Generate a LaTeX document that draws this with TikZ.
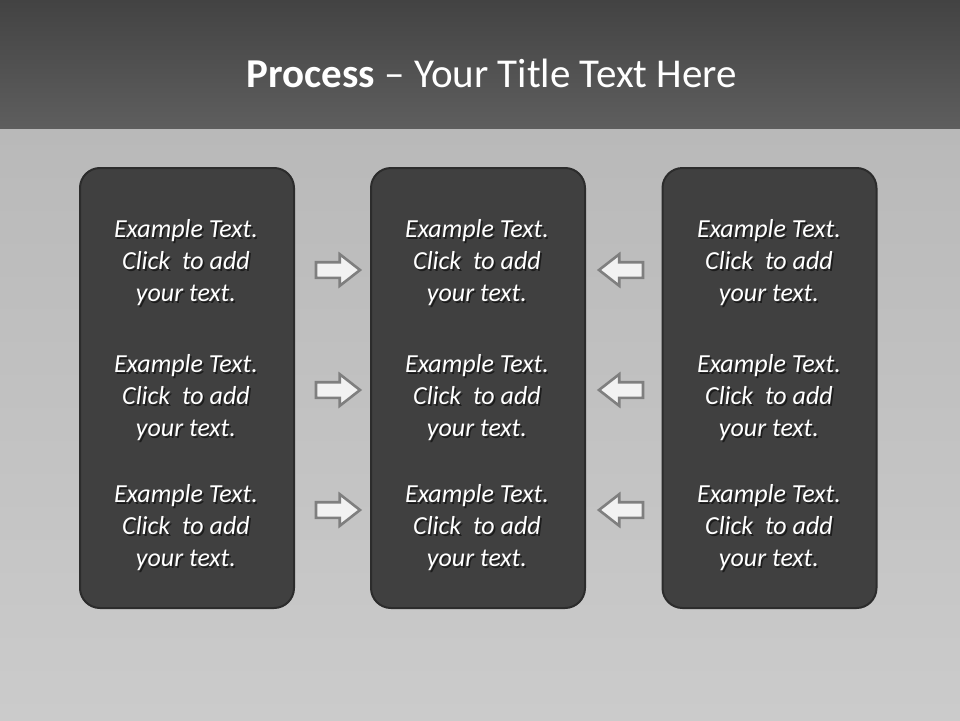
\documentclass[tikz,border=0pt]{standalone}
\usepackage{fontspec}
\setmainfont{Carlito}
\usetikzlibrary{shapes.arrows}
\definecolor{bandtop}{HTML}{434343}
\definecolor{bandbot}{HTML}{5E5E5E}
\definecolor{bgtop}{HTML}{B9B9B9}
\definecolor{bgbot}{HTML}{CBCBCB}
\definecolor{boxfill}{HTML}{404040}
\definecolor{boxline}{HTML}{2C2C2C}
\definecolor{arrfill}{HTML}{F2F2F2}
\definecolor{arrline}{HTML}{7F7F7F}
\tikzset{
  panel/.style={draw=boxline, line width=2pt, fill=boxfill, rounded corners=20pt,
    minimum width=214pt, minimum height=440pt, inner sep=0pt},
  txt/.style={text=white, align=center, inner sep=0pt,
    font=\fontsize{26}{32}\selectfont\itshape},
  txtshadow/.style={txt, text=black, opacity=0.55},
  arrowshape/.style={single arrow, draw=arrline, line width=2.6pt, fill=arrfill,
    minimum height=44pt, single arrow head extend=8pt,
    single arrow tip angle=76, inner xsep=0pt, inner ysep=6.5pt},
  title/.style={text=white, font=\fontsize{41}{48}\selectfont, inner sep=0pt}
}
\begin{document}
\begin{tikzpicture}[x=1pt,y=-1pt]
\useasboundingbox (0,0) rectangle (960,720);
% background
\shade[top color=bgtop, bottom color=bgbot] (0,128) rectangle (960,720);
\shade[top color=bandtop, bottom color=bandbot] (0,0) rectangle (960,128);
% title
\node[title] (ttl) at (492,73) {\textbf{Process} – Your Title Text Here};
% panels
\node[panel] (p1) at (187,388) {};
\node[panel] (p2) at (478,388) {};
\node[panel] (p3) at (769.5,388) {};
% texts
\foreach \cx/\n in {186/1,477/2,769/3}{
  \foreach \cy/\m in {263/1,398/2,528/3}{
    \node[txtshadow] (s\n\m) at (\cx+1.6,\cy+1.8) {Example Text.\\Click\ \ to add\\your text.};
    \node[txt] (t\n\m) at (\cx,\cy) {Example Text.\\Click\ \ to add\\your text.};
  }
}
% arrows
\foreach \cy/\m in {270/1,390/2,510/3}{
  \node[arrowshape] (ar\m) at (333,\cy) {};
  \node[arrowshape, shape border rotate=180] (al\m) at (626,\cy) {};
}
\end{tikzpicture}
\end{document}
